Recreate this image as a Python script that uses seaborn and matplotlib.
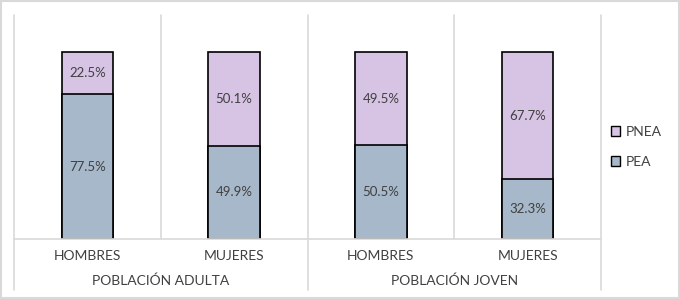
import matplotlib.pyplot as plt
import matplotlib.patches as mpatches
from matplotlib.lines import Line2D
import seaborn as sns
import pandas as pd

# datos
grupos = ['POBLACIÓN ADULTA', 'POBLACIÓN JOVEN']
sexos = ['HOMBRES', 'MUJERES', 'HOMBRES', 'MUJERES']
claves = ['adulta_h', 'adulta_m', 'joven_h', 'joven_m']
pea = [77.5, 49.9, 50.5, 32.3]
pnea = [22.5, 50.1, 49.5, 67.7]

col_pea = '#A6B8C9'
col_pnea = '#D7C3E4'
gris = '#D9D9D9'
texto = '#404040'

sns.set_style('white')
plt.rcParams['font.family'] = ['Lato', 'DejaVu Sans']

df = pd.DataFrame({'cat': claves, 'pea': pea, 'pnea': pnea})
df['total'] = df['pea'] + df['pnea']

fig = plt.figure(figsize=(6.8, 2.99), dpi=100)
ax = fig.add_axes([14 / 680, 1 - 239 / 299, 587 / 680, 224 / 299])

# barras apiladas: total (PNEA) detrás, PEA delante
sns.barplot(data=df, x='cat', y='total', order=claves, color=col_pnea, saturation=1,
            edgecolor='black', linewidth=1.2, width=0.35, ax=ax)
sns.barplot(data=df, x='cat', y='pea', order=claves, color=col_pea, saturation=1,
            edgecolor='black', linewidth=1.2, width=0.35, ax=ax)

for i, row in df.iterrows():
    ax.text(i, row['pea'] / 2, f"{row['pea']:.1f}%", ha='center', va='center',
            fontsize=9.5, color=texto)
    ax.text(i, row['pea'] + row['pnea'] / 2, f"{row['pnea']:.1f}%", ha='center',
            va='center', fontsize=9.5, color=texto)

ax.set_xlim(-0.5, 3.5)
ax.set_ylim(0, 120)
ax.set_xticks([])
ax.set_yticks([])
ax.set_xlabel('')
ax.set_ylabel('')
for s in ['top', 'right', 'left']:
    ax.spines[s].set_visible(False)
ax.spines['bottom'].set_color(gris)
ax.spines['bottom'].set_linewidth(1.2)

# separadores verticales
tr = ax.get_xaxis_transform()
for x in [0.5, 2.5]:
    ax.add_line(Line2D([x, x], [0, 1], transform=tr, color=gris, lw=1.2, clip_on=False, zorder=0))
for x in [-0.5, 1.5, 3.5]:
    ax.add_line(Line2D([x, x], [-0.228, 1], transform=tr, color=gris, lw=1.2, clip_on=False, zorder=0))

# etiquetas del eje
for i, s in enumerate(sexos):
    ax.text(i, -0.076, s, transform=tr, ha='center', va='center', fontsize=10, color=texto)
for j, g in enumerate(grupos):
    ax.text(2 * j + 0.5, -0.188, g, transform=tr, ha='center', va='center', fontsize=10, color=texto)

handles = [mpatches.Patch(facecolor=col_pnea, edgecolor='black', label='PNEA'),
           mpatches.Patch(facecolor=col_pea, edgecolor='black', label='PEA')]
fig.legend(handles=handles, loc='center left', bbox_to_anchor=(598 / 680, 1 - 147 / 299),
           frameon=False, fontsize=10, handlelength=0.7, handleheight=0.7,
           handletextpad=0.4, labelspacing=1.3, labelcolor=texto)

fig.patches.append(mpatches.Rectangle((0.002, 0.004), 0.996, 0.992, transform=fig.transFigure,
                                      fill=False, edgecolor=gris, lw=1.5))

fig.savefig('out.png', dpi=100)
